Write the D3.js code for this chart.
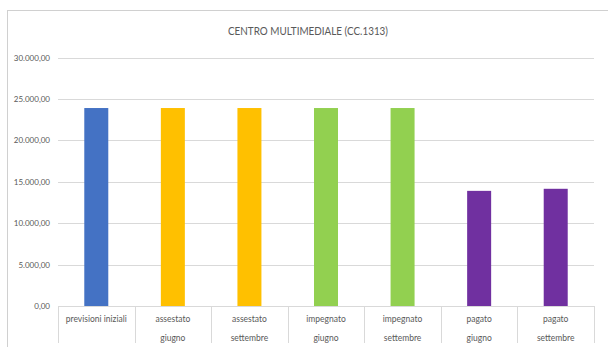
<!DOCTYPE html>
<html>
<head>
<meta charset="utf-8">
<script src="https://cdn.jsdelivr.net/npm/d3@7"></script>
<style>
  body { margin: 0; background: #fff; }
  text { font-family: Lato, "Open Sans", sans-serif; }
</style>
</head>
<body>
<svg width="608" height="347"></svg>
<script>
// values
const categories = ['previsioni iniziali', 'assestato giugno', 'assestato settembre',
  'impegnato giugno', 'impegnato settembre', 'pagato giugno', 'pagato settembre'];
const labelLines = [['previsioni iniziali'], ['assestato', 'giugno'], ['assestato', 'settembre'],
  ['impegnato', 'giugno'], ['impegnato', 'settembre'], ['pagato', 'giugno'], ['pagato', 'settembre']];
const values = [23900, 23900, 23900, 23900, 23900, 13900, 14150];
const yTicks = [0, 5000, 10000, 15000, 20000, 25000, 30000];
const barColors = ['#4472C4', '#FFC000', '#FFC000', '#92D050', '#92D050', '#7030A0', '#7030A0'];

const svg = d3.select('svg');

// chart frame (right and bottom edges fall outside the picture)
svg.append('rect')
  .attr('x', 7.5).attr('y', 10.5)
  .attr('width', 640).attr('height', 400)
  .attr('fill', '#fff')
  .attr('stroke', '#d0d0d0');

svg.append('text')
  .attr('x', 308).attr('y', 35)
  .attr('text-anchor', 'middle')
  .attr('font-size', 11)
  .attr('textLength', 160)
  .attr('lengthAdjust', 'spacingAndGlyphs')
  .attr('fill', '#595959')
  .text('CENTRO MULTIMEDIALE (CC.1313)');

const x = d3.scaleBand().domain(categories).range([58, 594]).paddingInner(0).paddingOuter(0);
const y = d3.scaleLinear().domain([0, 30000]).range([306, 57.5]);

const fmt = (v) => d3.format(',.2f')(v).replace(/,/g, '#').replace('.', ',').replace(/#/g, '.');

// gridlines
svg.append('g')
  .selectAll('line')
  .data(yTicks.filter((d) => d > 0))
  .join('line')
  .attr('x1', 58).attr('x2', 594)
  .attr('y1', (d) => Math.round(y(d)) + 0.5)
  .attr('y2', (d) => Math.round(y(d)) + 0.5)
  .attr('stroke', '#d9d9d9');

// y labels
svg.append('g')
  .selectAll('text')
  .data(yTicks)
  .join('text')
  .attr('x', 50)
  .attr('y', (d) => y(d) + 3)
  .attr('text-anchor', 'end')
  .attr('font-size', 8)
  .attr('fill', '#595959')
  .text(fmt);

// bars
svg.append('g')
  .selectAll('rect')
  .data(values)
  .join('rect')
  .attr('x', (d, i) => x(categories[i]) + x.bandwidth() / 2 - 12)
  .attr('width', 24)
  .attr('y', (d) => y(d))
  .attr('height', (d) => y(0) - y(d))
  .attr('fill', (d, i) => barColors[i]);

// category axis line and dividers
svg.append('line')
  .attr('x1', 58).attr('x2', 594)
  .attr('y1', 306.5).attr('y2', 306.5)
  .attr('stroke', '#d9d9d9');

const edges = categories.map((c) => x(c)).concat([x.range()[1]]);
svg.append('g')
  .selectAll('line')
  .data(edges)
  .join('line')
  .attr('x1', (d) => Math.round(d) + 0.5)
  .attr('x2', (d) => Math.round(d) + 0.5)
  .attr('y1', 306).attr('y2', 343)
  .attr('stroke', '#d9d9d9');

// category labels
const lab = svg.append('g')
  .selectAll('text')
  .data(labelLines)
  .join('text')
  .attr('text-anchor', 'middle')
  .attr('font-size', 8.5)
  .attr('fill', '#595959');

lab.selectAll('tspan')
  .data((d, i) => d.map((t) => ({ t, i })))
  .join('tspan')
  .attr('x', (d) => x(categories[d.i]) + x.bandwidth() / 2)
  .attr('y', (d, j) => 322 + j * 19)
  .text((d) => d.t);
</script>
</body>
</html>
